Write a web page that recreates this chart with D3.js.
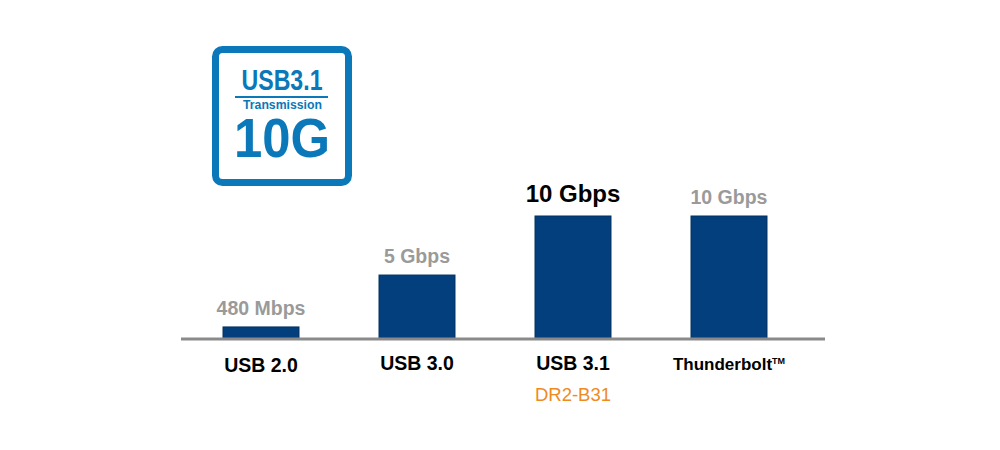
<!DOCTYPE html>
<html>
<head>
<meta charset="utf-8">
<script src="https://cdn.jsdelivr.net/npm/d3@7"></script>
<style>
  body { margin: 0; background: #fff; }
  svg { display: block; font-family: "Liberation Sans", Arial, sans-serif; }
</style>
</head>
<body>
<svg id="chart" width="1000" height="450"></svg>
<script>
// interfaces and bar heights, read on the 10 Gbps scale of the picture
var interfaces = ["USB 2.0", "USB 3.0", "USB 3.1", "Thunderbolt"];
var barLevel = [0.98, 5.2, 10, 10];
var speedLabels = ["480 Mbps", "5 Gbps", "10 Gbps", "10 Gbps"];
var highlighted = "USB 3.1";
var productName = "DR2-B31";

var svg = d3.select("#chart");

var baseY = 339;

var x = d3.scaleBand()
    .domain(interfaces)
    .range([183, 807])
    .paddingInner(0.513)
    .paddingOuter(0.2565);

var y = d3.scaleLinear()
    .domain([0, 10])
    .range([baseY, 216]);

// badge
var badge = svg.append("g");
badge.append("rect")
    .attr("x", 215.5).attr("y", 49.5)
    .attr("width", 133).attr("height", 133)
    .attr("rx", 7).attr("ry", 7)
    .attr("fill", "#fff")
    .attr("stroke", "#0a78b9")
    .attr("stroke-width", 7);
badge.append("text")
    .attr("x", 282).attr("y", 90)
    .attr("text-anchor", "middle")
    .attr("font-size", 30).attr("font-weight", "bold")
    .attr("fill", "#0a78b9")
    .attr("textLength", 81).attr("lengthAdjust", "spacingAndGlyphs")
    .text("USB3.1");
badge.append("line")
    .attr("x1", 235).attr("x2", 328)
    .attr("y1", 97).attr("y2", 97)
    .attr("stroke", "#0a78b9").attr("stroke-width", 2);
badge.append("text")
    .attr("x", 282.5).attr("y", 109)
    .attr("text-anchor", "middle")
    .attr("font-size", 12).attr("font-weight", "bold")
    .attr("fill", "#0a78b9")
    .attr("textLength", 79).attr("lengthAdjust", "spacingAndGlyphs")
    .text("Transmission");
badge.append("text")
    .attr("x", 282).attr("y", 157)
    .attr("text-anchor", "middle")
    .attr("font-size", 55).attr("font-weight", "bold")
    .attr("fill", "#0a78b9")
    .attr("textLength", 96).attr("lengthAdjust", "spacingAndGlyphs")
    .text("10G");

// bars
svg.selectAll("rect.bar")
    .data(interfaces)
    .enter().append("rect")
    .attr("class", "bar")
    .attr("x", function (d) { return x(d); })
    .attr("width", x.bandwidth())
    .attr("y", function (d, i) { return y(barLevel[i]); })
    .attr("height", function (d, i) { return baseY - y(barLevel[i]); })
    .attr("fill", "#033f7c")
    .attr("stroke", "#02315f")
    .attr("stroke-width", 1);

// baseline
svg.append("line")
    .attr("x1", 181).attr("x2", 825)
    .attr("y1", baseY).attr("y2", baseY)
    .attr("stroke", "#8a8a8a")
    .attr("stroke-width", 3);

// speed labels
svg.selectAll("text.speed")
    .data(interfaces)
    .enter().append("text")
    .attr("class", "speed")
    .attr("x", function (d) { return x(d) + x.bandwidth() / 2; })
    .attr("y", function (d, i) { return y(barLevel[i]) - (d == highlighted ? 14 : 12); })
    .attr("text-anchor", "middle")
    .attr("font-weight", "bold")
    .attr("font-size", function (d) { return d == highlighted ? 24 : 19.5; })
    .attr("fill", function (d) { return d == highlighted ? "#000" : "#9a9a9a"; })
    .text(function (d, i) { return speedLabels[i]; });

// category labels
var cat = svg.selectAll("text.cat")
    .data(interfaces)
    .enter().append("text")
    .attr("class", "cat")
    .attr("x", function (d) { return x(d) + x.bandwidth() / 2; })
    .attr("y", function (d, i) { return i == 0 ? 372 : 370; })
    .attr("text-anchor", "middle")
    .attr("font-weight", "bold")
    .attr("font-size", function (d) { return d == "Thunderbolt" ? 17 : 19.5; })
    .attr("fill", "#000");

cat.append("tspan").text(function (d) { return d; });
cat.filter(function (d) { return d == "Thunderbolt"; })
    .append("tspan")
    .attr("font-size", 9)
    .attr("dy", -6)
    .text("TM");

svg.append("text")
    .attr("x", x(highlighted) + x.bandwidth() / 2)
    .attr("y", 401)
    .attr("text-anchor", "middle")
    .attr("font-size", 18.5)
    .attr("fill", "#ef8a1e")
    .text(productName);
</script>
</body>
</html>
